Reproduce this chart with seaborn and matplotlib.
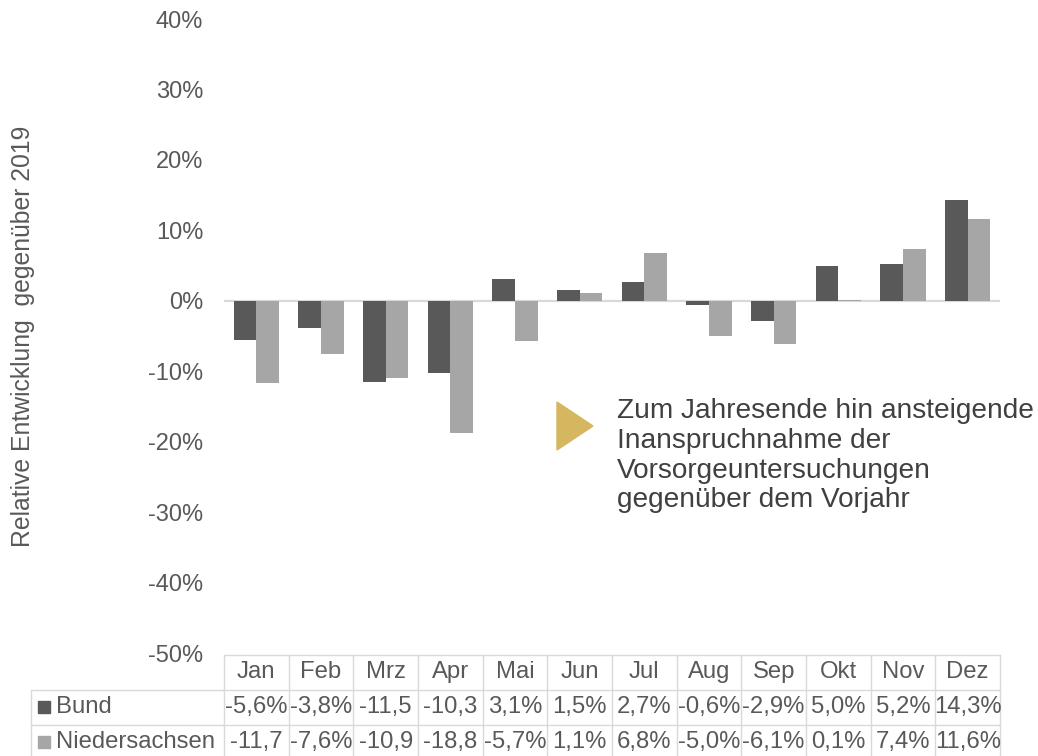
import matplotlib
matplotlib.use("Agg")
import matplotlib.pyplot as plt
import matplotlib.transforms as mtransforms
from matplotlib.patches import Polygon, Rectangle
import numpy as np
import pandas as pd
import seaborn as sns

# Monthly change in preventive check-ups versus 2019 (percent)
months = ["Jan", "Feb", "Mrz", "Apr", "Mai", "Jun", "Jul", "Aug", "Sep", "Okt", "Nov", "Dez"]
series_names = ["Bund", "Niedersachsen"]
bund = [-5.6, -3.8, -11.5, -10.3, 3.1, 1.5, 2.7, -0.6, -2.9, 5.0, 5.2, 14.3]
niedersachsen = [-11.7, -7.6, -10.9, -18.8, -5.7, 1.1, 6.8, -5.0, -6.1, 0.1, 7.4, 11.6]
y_ticks = [-50, -40, -30, -20, -10, 0, 10, 20, 30, 40]
y_label = "Relative Entwicklung  gegenüber 2019"
note = "Zum Jahresende hin ansteigende\nInanspruchnahme der\nVorsorgeuntersuchungen\ngegenüber dem Vorjahr"

colors = {"Bund": "#595959", "Niedersachsen": "#A6A6A6"}
grid_col = "#D9D9D9"
text_col = "#595959"

df = pd.DataFrame({
    "Monat": months * 2,
    "Reihe": ["Bund"] * len(months) + ["Niedersachsen"] * len(months),
    "Wert": np.array(bund + niedersachsen) / 100.0,
})

sns.set_theme(style="white")
plt.rcParams["font.family"] = ["Liberation Sans", "DejaVu Sans"]

W, H = 1038, 756
fig = plt.figure(figsize=(W / 100, H / 100), dpi=100)

# axes placed in pixel terms
ax_left, ax_right, ax_top, ax_bottom = 224, 1000, 19, 653
ax = fig.add_axes([ax_left / W, 1 - ax_bottom / H, (ax_right - ax_left) / W, (ax_bottom - ax_top) / H])

sns.barplot(data=df, x="Monat", y="Wert", hue="Reihe", order=months, hue_order=series_names,
            palette=colors, width=0.7, gap=0, saturation=1, ax=ax, legend=False, edgecolor="none")

ax.set_xlim(-0.5, len(months) - 0.5)
ax.set_ylim(y_ticks[0] / 100, y_ticks[-1] / 100)
ax.set_yticks([t / 100 for t in y_ticks])
ax.set_yticklabels([f"{t}%" for t in y_ticks], fontsize=17, color=text_col)
ax.tick_params(axis="y", length=0, pad=15)
ax.set_xticks([])
ax.set_xlabel("")
ax.set_ylabel("")
for s in ax.spines.values():
    s.set_visible(False)
ax.axhline(0, color=grid_col, lw=1.6, zorder=0)

fig.text(23 / W, 1 - 336 / H, y_label, rotation=90, ha="center", va="center",
         fontsize=17.8, color=text_col)

# data table below the plot: x in data units, y in figure pixels
def py(p):
    return 1 - p / H

blend = mtransforms.blended_transform_factory(ax.transData, fig.transFigure)
n = len(months)
row_top, row1, row2, row_end = 655, 690, 725, 770
lw = 1.0
ax.plot([-0.5, n - 0.5], [py(row_top)] * 2, transform=blend, color=grid_col, lw=lw, clip_on=False)
for yy in (row1, row2):
    fig.add_artist(plt.Line2D([31 / W, ax_right / W], [py(yy)] * 2, color=grid_col, lw=lw))
for i in range(n + 1):
    ax.plot([i - 0.5, i - 0.5], [py(row_top), py(row_end)], transform=blend,
            color=grid_col, lw=lw, clip_on=False)
fig.add_artist(plt.Line2D([31 / W] * 2, [py(row1), py(row_end)], color=grid_col, lw=lw))

def cell_text(v):
    s = f"{v:.1f}%".replace(".", ",")
    return s[:5]

fs_tab = 17.2
for i, m in enumerate(months):
    ax.text(i, py(672), m, transform=blend, ha="center", va="center", fontsize=fs_tab, color=text_col)
    ax.text(i, py(707), cell_text(bund[i]), transform=blend, ha="center", va="center",
            fontsize=fs_tab, color=text_col)
    ax.text(i, py(742), cell_text(niedersachsen[i]), transform=blend, ha="center", va="center",
            fontsize=fs_tab, color=text_col)

for name, yc in zip(series_names, (707, 742)):
    fig.add_artist(Rectangle((38 / W, py(yc + 6)), 12 / W, 12 / H, color=colors[name],
                             transform=fig.transFigure))
    fig.text(56 / W, py(yc), name, ha="left", va="center", fontsize=fs_tab, color=text_col)

# annotation marker and note
tri = Polygon([[557 / W, py(402)], [557 / W, py(450)], [593 / W, py(426)]], closed=True,
              color="#D5B75F", transform=fig.transFigure)
fig.add_artist(tri)
fig.text(617 / W, py(398), note, ha="left", va="top", fontsize=20.2, color="#404040", linespacing=1.19)

fig.savefig("out.png", dpi=100)
